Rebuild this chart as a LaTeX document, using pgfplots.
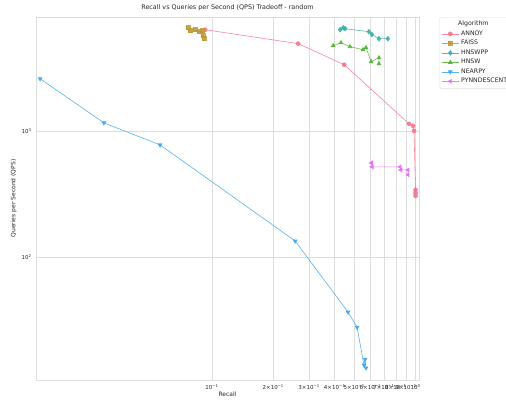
\documentclass[border=0pt]{standalone}
\usepackage{pgfplots}
\pgfplotsset{compat=1.18}
\usepackage{fontspec}
\setmainfont{DejaVu Sans}
\definecolor{cannoy}{HTML}{F77189}
\definecolor{cfaiss}{HTML}{BB9832}
\definecolor{chnswpp}{HTML}{36ADA4}
\definecolor{chnsw}{HTML}{50B131}
\definecolor{cnearpy}{HTML}{3BA3EC}
\definecolor{cpynn}{HTML}{E866F4}
\definecolor{txt}{HTML}{262626}
\definecolor{grd}{HTML}{DDDDDD}
\begin{document}
\begin{tikzpicture}[x=1pt,y=1pt]
\useasboundingbox (0,0) rectangle (506,400);
\begin{axis}[
  at={(36pt,20pt)}, anchor=south west,
  scale only axis, width=383pt, height=363pt,
  xmode=log, ymode=log,
  xmin=0.01364, xmax=1.04, ymin=10.6, ymax=7980,
  xtick={0.1,0.2,0.3,0.4,0.5,0.6,0.7,0.8,0.9,1},
  xticklabels={10\textsuperscript{−1},2×10\textsuperscript{−1},3×10\textsuperscript{−1},4×10\textsuperscript{−1},5×10\textsuperscript{−1},6×10\textsuperscript{−1},7×10\textsuperscript{−1},8×10\textsuperscript{−1},9×10\textsuperscript{−1},10\textsuperscript{0}},
  ytick={100,1000},
  yticklabels={10\textsuperscript{2},10\textsuperscript{3}},
  xminorticks=false, yminorticks=false,
  major tick length=0pt,
  grid=major,
  major grid style={draw=grd, line width=0.6pt},
  axis line style={draw=grd, line width=0.8pt},
  tick label style={font=\fontsize{5.5}{6.5}\selectfont, text=txt},
  xticklabel style={yshift=-1pt},
  yticklabel style={xshift=-1pt},
  title={Recall vs Queries per Second (QPS) Tradeoff - random},
  title style={font=\fontsize{6.4}{7.5}\selectfont, text=txt, yshift=-3.5pt},
  xlabel={Recall},
  ylabel={Queries per Second (QPS)},
  label style={font=\fontsize{6}{7}\selectfont, text=txt},
  xlabel style={yshift=4.5pt},
  ylabel style={yshift=-2pt},
  legend style={at={(1.053,1)}, anchor=north west, font=\fontsize{6.2}{7.5}\selectfont, text=txt, draw=grd, rounded corners=1.5pt, row sep=-0.6pt, inner sep=2pt},
  legend cell align=left,
  every axis plot/.append style={line width=0.6pt, opacity=0.85, mark size=2pt},
]
\addlegendimage{empty legend}
\addlegendentry{\hspace{-3pt}Algorithm}

\addplot[color=cannoy, mark=*] coordinates {
(0.0925,6330) (0.265,4906) (0.446,3342) (0.929,1136) (0.972,1096) (0.983,1000) (1.0,340) (1.0,322) (1.0,305)};
\addlegendentry{ANNOY}

\addplot[color=cfaiss, mark=square*] coordinates {
(0.0762,6560) (0.0780,6220) (0.0825,6330) (0.0864,6110) (0.0893,6220) (0.0904,5680) (0.0914,5370)};
\addlegendentry{FAISS}

\addplot[color=chnswpp, mark=diamond*, mark size=2.4pt] coordinates {
(0.426,6330) (0.441,6560) (0.451,6450) (0.590,6100) (0.610,5800) (0.661,5370) (0.731,5370)};
\addlegendentry{HNSWPP}

\addplot[color=chnsw, mark=triangle*, mark size=2.2pt] coordinates {
(0.394,4730) (0.430,4990) (0.476,4645) (0.552,4396) (0.571,4560) (0.605,3530) (0.661,3795) (0.661,3405)};
\addlegendentry{HNSW}

\addplot[color=cnearpy, mark=triangle*, mark size=2.2pt, every mark/.append style={rotate=180}] coordinates {
(0.01428,2588) (0.0294,1157) (0.0555,774) (0.256,134) (0.466,36.6) (0.516,27.8) (0.558,13.9) (0.565,15.5) (0.571,13.2)};
\addlegendentry{NEARPY}

\addplot[color=cpynn, mark=triangle*, mark size=2.2pt, every mark/.append style={rotate=90}] coordinates {
(0.607,557) (0.612,518) (0.839,518) (0.847,490) (0.919,490) (0.919,448)};
\addlegendentry{PYNNDESCENT}
\end{axis}
\end{tikzpicture}
\end{document}
